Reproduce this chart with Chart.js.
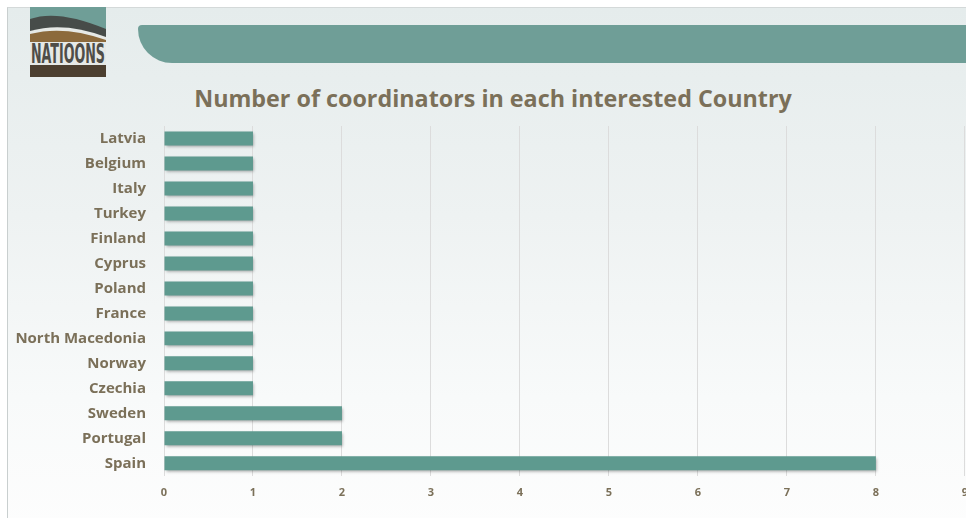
<!DOCTYPE html>
<html>
<head>
<meta charset="utf-8">
<script src="https://cdn.jsdelivr.net/npm/chart.js@4"></script>
<style>
  html, body { margin: 0; padding: 0; width: 966px; height: 518px; overflow: hidden; background: #fff; }
  #slide {
    position: absolute; left: 7px; top: 7px; width: 970px; height: 520px;
    border-left: 1px solid #c9cfcf; border-top: 1px solid #d4d9d9;
    background: linear-gradient(to bottom, #e5ecec 0%, #eef2f2 40%, #f8fafa 75%, #fdfdfd 100%);
  }
  #banner {
    position: absolute; left: 138px; top: 25px; width: 840px; height: 38px;
    background: #6f9e97; border-bottom-left-radius: 34px; border-top-left-radius: 4px;
  }
  #logo { position: absolute; left: 30px; top: 7px; width: 76px; height: 70px; }
  #title {
    position: absolute; left: 0; top: 82px; width: 986px; text-align: center;
    font-family: 'Open Sans', sans-serif; font-weight: bold; font-size: 23.3px; color: #7b7059;
  }
  #wrap { position: absolute; left: 0; top: 99px; width: 978px; height: 427px; }
</style>
</head>
<body>
<div id="slide"></div>
<div id="banner"></div>
<svg id="logo" viewBox="0 0 76 70">
  <rect x="0" y="0" width="76" height="70" fill="#6f9e97"/>
  <path d="M0 12 Q28 2 76 22 L76 70 L0 70 Z" fill="#474c49"/>
  <path d="M0 24 Q34 14 76 30 L76 70 L0 70 Z" fill="#e6e9e6"/>
  <path d="M0 27 Q34 18 76 33 L76 70 L0 70 Z" fill="#8c6a3c"/>
  <rect x="0" y="35" width="76" height="23" fill="#e6e9e6"/>
  <text x="38" y="56" text-anchor="middle" font-family="'Liberation Sans Narrow', 'DejaVu Sans Condensed', sans-serif" font-weight="bold" font-size="27" fill="#4f4d48" textLength="74" lengthAdjust="spacingAndGlyphs">NATIOONS</text>
  <rect x="0" y="58" width="76" height="12" fill="#4c3f30"/>
</svg>
<div id="title">Number of coordinators in each interested Country</div>
<div id="wrap"><canvas id="chart_coordinators"></canvas></div>
<script>
/* ---------------------------------------------------------------- DATA */
var countries = ['Latvia', 'Belgium', 'Italy', 'Turkey', 'Finland', 'Cyprus', 'Poland', 'France',
                 'North Macedonia', 'Norway', 'Czechia', 'Sweden', 'Portugal', 'Spain'];
var coordinators = [1, 1, 1, 1, 1, 1, 1, 1, 1, 1, 1, 2, 2, 8];
var xTicks = [0, 1, 2, 3, 4, 5, 6, 7, 8, 9];

var textColor = '#7b7059';

/* ------------------------------------------------------------- PLUGINS */
// drop shadow under the bars
const barShadow = {
    id: 'barShadow',
    beforeDatasetsDraw: function(chart) {
        var c = chart.ctx;
        c.save();
        c.shadowColor = 'rgba(0,0,0,0.35)';
        c.shadowBlur = 3;
        c.shadowOffsetX = 1;
        c.shadowOffsetY = 2;
    },
    afterDatasetsDraw: function(chart) {
        chart.ctx.restore();
    }
};

/* --------------------------------------------------------------- CHART */
const ctx = document.getElementById('chart_coordinators').getContext('2d');
const chartCoordinators = new Chart(ctx, {
    type: 'bar',
    data: {
        labels: countries,
        datasets: [{
            data: coordinators,
            backgroundColor: function(context) {
                var el = context.element;
                if (!el || !el.height) return '#5e9a8f';
                var g = context.chart.ctx.createLinearGradient(0, el.y - el.height / 2, 0, el.y + el.height / 2);
                g.addColorStop(0, '#78aca2');
                g.addColorStop(0.5, '#5f9b90');
                g.addColorStop(1, '#558f84');
                return g;
            },
            borderWidth: 0,
            barPercentage: 0.56,
            categoryPercentage: 1
        }]
    },
    options: {
        indexAxis: 'y',
        responsive: true,
        maintainAspectRatio: false,
        animation: false,
        layout: { padding: { top: 10, right: 2, bottom: 17, left: 0 } },
        plugins: {
            legend: { display: false },
            tooltip: { enabled: false }
        },
        scales: {
            x: {
                min: 0,
                max: 9,
                afterBuildTicks: function(scale) {
                    scale.ticks = xTicks.map(function(v) { return { value: v }; });
                },
                grid: { color: '#dcdcdc', drawTicks: false },
                border: { display: false },
                ticks: {
                    color: textColor,
                    padding: 10,
                    font: { family: "'Open Sans', sans-serif", size: 11, weight: 'bold' }
                }
            },
            y: {
                afterFit: function(scale) { scale.width = 164; },
                grid: { display: false, drawTicks: false },
                border: { display: false },
                ticks: {
                    color: textColor,
                    padding: 18,
                    font: { family: "'Open Sans', sans-serif", size: 15, weight: 'bold' }
                }
            }
        }
    },
    plugins: [barShadow]
});
</script>
</body>
</html>
